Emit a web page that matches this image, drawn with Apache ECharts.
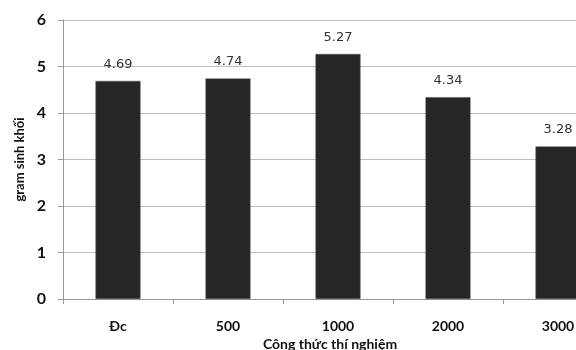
<!DOCTYPE html>
<html>
<head>
<meta charset="utf-8">
<script src="https://cdn.jsdelivr.net/npm/echarts@6/dist/echarts.min.js"></script>
<style>
  html, body { margin: 0; padding: 0; background: #ffffff; }
  #chart { width: 576px; height: 350px; }
</style>
</head>
<body>
<div id="chart"></div>
<script>
// Biomass (grams) per experimental treatment
const categories = ['Đc', '500', '1000', '2000', '3000'];
const biomass = [4.69, 4.74, 5.27, 4.34, 3.28];
const yTicks = [0, 1, 2, 3, 4, 5, 6];

const chart = echarts.init(document.getElementById('chart'), null, { renderer: 'canvas' });

chart.setOption({
  animation: false,
  backgroundColor: '#ffffff',
  grid: { left: 63, top: 20, width: 550, height: 279, containLabel: false, outerBoundsMode: 'none' },
  xAxis: {
    type: 'category',
    data: categories,
    name: 'Công thức thí nghiệm',
    nameLocation: 'middle',
    nameGap: 35,
    nameTextStyle: { fontFamily: 'Lato', fontWeight: 'bold', fontSize: 14, color: '#111', padding: [0, 16, 0, 0] },
    axisLine: { lineStyle: { color: '#999', width: 1 } },
    axisTick: { show: true, length: 5, lineStyle: { color: '#999' } },
    axisLabel: { margin: 20, fontFamily: 'Lato', fontWeight: 'bold', fontSize: 14, color: '#111' }
  },
  yAxis: {
    type: 'value',
    min: yTicks[0],
    max: yTicks[yTicks.length - 1],
    interval: 1,
    name: 'gram sinh khối',
    nameLocation: 'middle',
    nameGap: 35,
    nameRotate: 90,
    nameTextStyle: { fontFamily: 'Lato', fontWeight: 'bold', fontSize: 13, color: '#111' },
    axisLine: { show: true, lineStyle: { color: '#999', width: 1 } },
    axisTick: { show: true, length: 5, lineStyle: { color: '#999' } },
    axisLabel: { margin: 17, fontFamily: 'Lato', fontWeight: 'bold', fontSize: 16, color: '#111' },
    splitLine: { show: true, lineStyle: { color: '#bdbdbd', width: 1 } }
  },
  series: [{
    type: 'bar',
    data: biomass,
    barWidth: 45,
    itemStyle: { color: '#262626', borderColor: '#555', borderWidth: 0.5 },
    label: {
      show: true,
      position: 'top',
      distance: 10,
      fontFamily: 'DejaVu Sans',
      fontSize: 13,
      color: '#333',
      formatter: p => p.value.toFixed(2)
    }
  }]
});
</script>
</body>
</html>
